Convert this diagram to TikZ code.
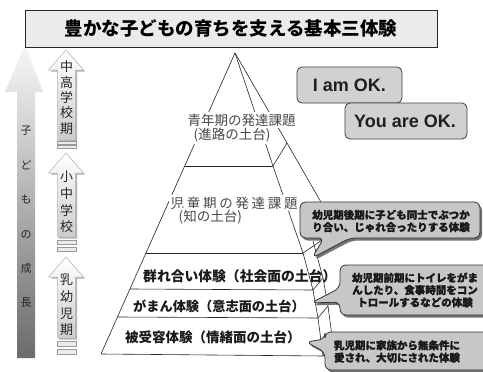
\documentclass[tikz,border=0pt]{standalone}
\usepackage{fontspec}
\setmainfont{Liberation Sans}
\newfontfamily\cjk{Noto Sans CJK JP}
\begin{document}
\begin{tikzpicture}[x=1pt,y=-1pt,
  pline/.style={draw=black!85,line width=0.6pt},
  thintext/.style={font=\cjk\fontsize{13.5}{15}\selectfont,text=black!72,inner sep=1.5pt},
  boldtext/.style={font=\cjk\bfseries\fontsize{13.5}{15}\selectfont,text=black!90,inner sep=0pt,anchor=west},
  callout/.style={fill=black!22,draw=black!80,line width=0.8pt,rounded corners=6pt},
  calshadow/.style={fill=black!55,rounded corners=6pt},
  caltext/.style={font=\cjk\bfseries\fontsize{10.5}{12.3}\selectfont\addfontfeature{FakeBold=1.2},align=center,text=black!90,inner sep=0pt},
  okbox/.style={fill=black!18,draw=black!75,line width=0.8pt,rounded corners=5pt},
  oktext/.style={font=\bfseries\fontsize{18}{20}\selectfont,text=black!88,inner sep=0pt},
  smallarrow/.style={top color=white,bottom color=black!20,draw=black!30,line width=0.5pt},
  bar/.style={fill=black!8,draw=black!40,line width=0.5pt},
  vtext/.style={font=\cjk\fontsize{13}{15.3}\selectfont,align=center,text=black!85,inner sep=0pt}
]
\useasboundingbox (0,0) rectangle (483,372);
\fill[white] (0,0) rectangle (483,372);

% ---------- big arrow ----------
\shade[top color=black!3,bottom color=black!58]
  (25,45) -- (43,92) -- (35,92) -- (35,358) -- (17,358) -- (17,92) -- (5,92) -- cycle;
\node[font=\cjk\fontsize{11}{34.4}\selectfont,align=center,text=black!85,inner sep=0pt] (grow) at (26,217)
  {子\\ど\\も\\の\\成\\長};

% ---------- small arrows ----------
\foreach \t/\b in {50/140,153/237,257/338}{
  \fill[black!30] (67.5,\t+1.5) -- (85,\t+21.5) -- (77,\t+21.5) -- (77,\b+1.5) -- (59,\b+1.5) -- (59,\t+21.5) -- (51,\t+21.5) -- cycle;
  \shade[smallarrow] (66,\t) -- (83.5,\t+20) -- (75.5,\t+20) -- (75.5,\b) -- (57.5,\b) -- (57.5,\t+20) -- (48.5,\t+20) -- cycle;
}
\draw[bar] (57.5,141.5) rectangle (76,144);
\draw[bar] (57.5,145.5) rectangle (76,148);
\draw[bar] (57.5,240) rectangle (76,244.5);
\draw[bar] (57.5,247) rectangle (76,251.5);
\draw[bar] (57.5,341) rectangle (76,346);
\draw[bar] (57.5,349) rectangle (76,354);
\node[vtext] (s1) at (66.5,97.5) {中\\高\\学\\校\\期};
\node[vtext,font=\cjk\fontsize{13}{16.6}\selectfont] (s2) at (66.5,202) {小\\中\\学\\校};
\node[vtext,font=\cjk\fontsize{13}{16.7}\selectfont] (s3) at (66.5,305) {乳\\幼\\児\\期};

% ---------- title ----------
\node[draw=black!85,fill=black!8,line width=0.9pt,minimum width=412pt,minimum height=37pt,inner sep=0pt,
  font=\cjk\bfseries\fontsize{18.5}{20}\selectfont] (title) at (231,28.5) {豊かな子どもの育ちを支える基本三体験};

% ---------- pyramid ----------
\coordinate (A) at (235,53);
\coordinate (BL) at (101,354);
\coordinate (F1) at (273,166);
\coordinate (B1) at (287,143);
\coordinate (F2) at (303,253);
\coordinate (B2) at (337,230);
\coordinate (F3) at (313,290);
\coordinate (F4) at (318,318);
\coordinate (F5) at (323,356);
\coordinate (S3) at (323,278);
\coordinate (S4) at (328,306);
\coordinate (S5) at (333,344);
\coordinate (H1) at (185,166);
\coordinate (H2) at (146,253);
\coordinate (H3) at (130,289);
\coordinate (H4) at (117.5,317);
\draw[pline] (A) -- (BL);
\draw[pline] (A) -- (F1) -- (F2) -- (F3) -- (F4) -- (F5);
\draw[pline] (A) -- (B1) -- (B2);
\draw[pline] (F1) -- (B1);
\draw[pline] (F2) -- (B2);
\draw[pline] (H1) -- (F1);
\draw[pline] (H2) -- (F2);
\draw[pline] (H3) -- (F3);
\draw[pline] (H4) -- (F4);
\draw[pline] (BL) -- (F5);
\draw[pline] (313,241) -- (S3) -- (S4) -- (S5);
\draw[pline] (F3) -- (S3);
\draw[pline] (F4) -- (S4);
\draw[pline] (F5) -- (S5);

% thin texts (with white ground hiding the lines)
\node[thintext,fill=white,anchor=west] (t1) at (186,120) {青年期の発達課題};
\node[thintext,fill=white,anchor=west] (t2) at (192,135) {(進路の土台)};
\node[thintext,fill=white,anchor=west,font=\cjk\fontsize{13.5}{15}\selectfont\addfontfeature{LetterSpace=20}] (t3) at (169,203) {児童期の発達課題};
\node[thintext,fill=white,anchor=west] (t4) at (177,217) {(知の土台)};

% bold layer texts
\node[boldtext,font=\cjk\bfseries\fontsize{13.8}{15}\selectfont] (l3) at (143,276) {群れ合い体験（社会面の土台）};
\node[boldtext,font=\cjk\bfseries\fontsize{13.2}{15}\selectfont] (l4) at (133,306) {がまん体験（意志面の土台）};
\node[boldtext] (l5) at (125,337) {被受容体験（情緒面の土台）};

% ---------- OK boxes ----------
\draw[okbox] (297,67) rectangle (402,103);
\node[oktext] (ok1) at (349.5,85.5) {I am OK.};
\draw[okbox] (345,103) rectangle (467,139);
\node[oktext] (ok2) at (405,121.5) {You are OK.};

% ---------- callouts ----------
\fill[calshadow,shift={(2,2.5)}] (300,202) -- (480,202) -- (480,238) -- (350,238) -- (312,258) -- (324,238) -- (300,238) -- cycle;
\draw[callout] (300,202) -- (480,202) -- (480,238) -- (350,238) -- (312,258) -- (324,238) -- (300,238) -- cycle;
\node[caltext] (c1) at (391,221) {幼児期後期に子ども同士でぶつか\\り合い、じゃれ合ったりする体験};

\fill[calshadow,shift={(2,2.5)}] (340,265) -- (490,265) -- (490,315) -- (340,315) -- (340,302) -- (311,303) -- (340,288) -- cycle;
\draw[callout] (340,265) -- (490,265) -- (490,315) -- (340,315) -- (340,302) -- (311,303) -- (340,288) -- cycle;
\node[caltext] (c2) at (415,290) {幼児期前期にトイレをがま\\んしたり、食事時間をコン\\トロールするなどの体験};

\fill[calshadow,shift={(2,2.5)}] (325,332) -- (490,332) -- (490,370) -- (325,370) -- (325,352) -- (306,342) -- (325,339) -- cycle;
\draw[callout] (325,332) -- (490,332) -- (490,370) -- (325,370) -- (325,352) -- (306,342) -- (325,339) -- cycle;
\node[caltext] (c3) at (397,351.5) {乳児期に家族から無条件に\\愛され、大切にされた体験};
\end{tikzpicture}
\end{document}
